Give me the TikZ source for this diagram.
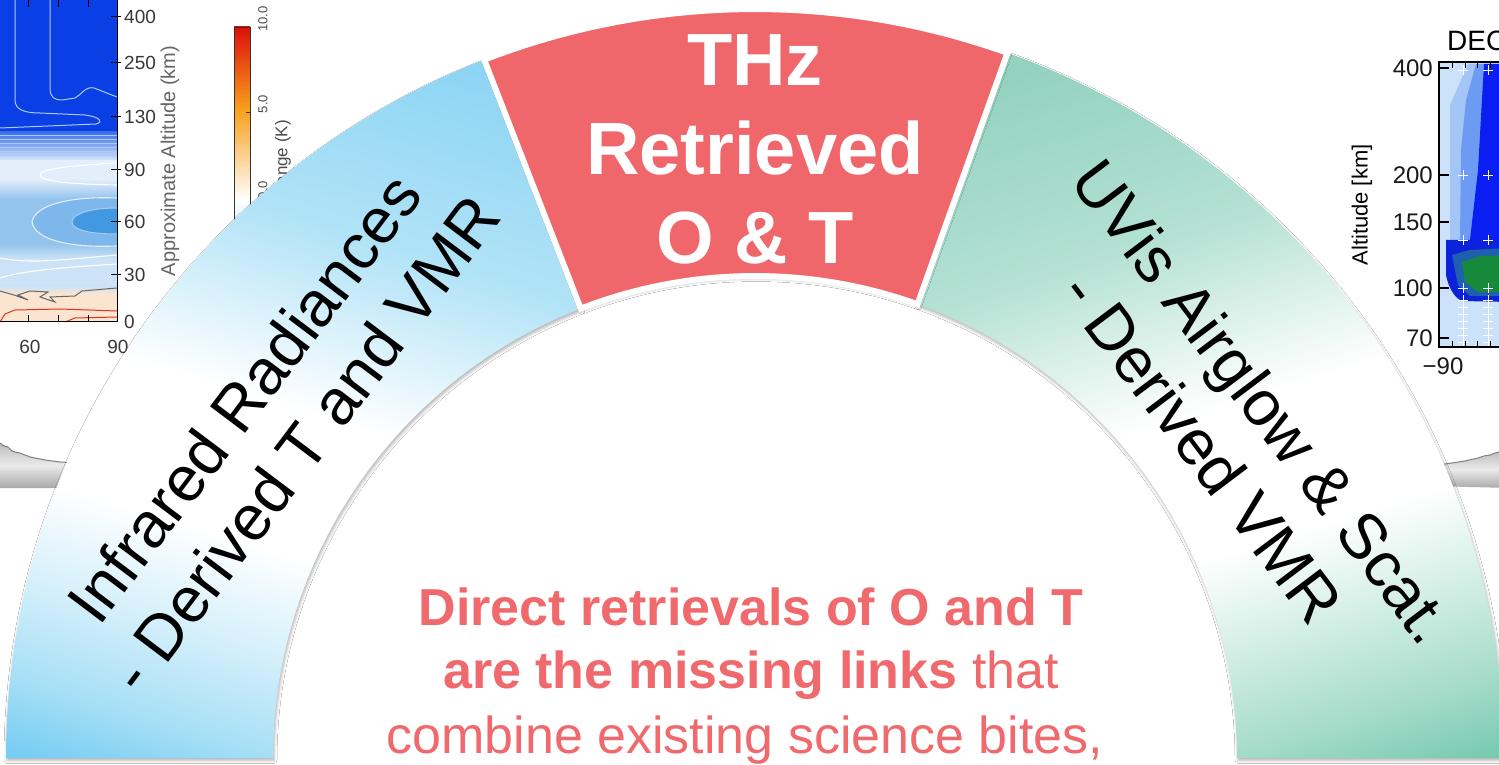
\documentclass[tikz,border=0pt]{standalone}
\usepackage{fontspec}
\setmainfont{Liberation Sans}
\usetikzlibrary{shadows.blur}

% arch palette
\definecolor{irA}{HTML}{72CBF2}
\definecolor{irB}{HTML}{A6DFF6}
\definecolor{irC}{HTML}{D6F0FB}
\definecolor{irD}{HTML}{B2E3F7}
\definecolor{irE}{HTML}{8DD5F4}
\definecolor{uvA}{HTML}{74C8AE}
\definecolor{uvB}{HTML}{A4DBC9}
\definecolor{uvC}{HTML}{D2EEE5}
\definecolor{uvD}{HTML}{B4E1D3}
\definecolor{uvE}{HTML}{94D2BF}
\definecolor{thzred}{HTML}{F0676B}
\definecolor{msgred}{HTML}{F0696D}
% contour plot palette (left)
\definecolor{lpDeep}{HTML}{0B3FE6}
\definecolor{lpTrans}{HTML}{3A70EB}
\definecolor{lpPale}{HTML}{E3EEFA}
\definecolor{lpMid}{HTML}{93C4EE}
\definecolor{lpTongue}{HTML}{7DB7EC}
\definecolor{lpCore}{HTML}{4398E2}
\definecolor{lpLight}{HTML}{CCE2F6}
\definecolor{lpPeach}{HTML}{FBE4D0}
\definecolor{lpLine}{HTML}{A9CBF4}
\definecolor{cbRed}{HTML}{DD0F0C}
\definecolor{cbOrange}{HTML}{F8A11C}
% contour plot palette (right)
\definecolor{rpLight}{HTML}{CCE2FB}
\definecolor{rpMedA}{HTML}{A4C6F7}
\definecolor{rpMedB}{HTML}{6D9BF3}
\definecolor{rpDeep}{HTML}{0A1EF2}
\definecolor{rpDark}{HTML}{0B22D8}
\definecolor{rpTeal}{HTML}{1F5FB0}
\definecolor{rpGreen}{HTML}{168A3A}
% boom greys
\definecolor{boomTop}{HTML}{BDBDBD}
\definecolor{boomMid}{HTML}{EAEAEA}
\definecolor{boomLow}{HTML}{A9A9A9}

\pgfdeclareverticalshading{irband}{100bp}{color(0bp)=(irA); color(32bp)=(irA); color(36bp)=(irB); color(41bp)=(irC); color(46bp)=(white); color(53bp)=(white); color(62bp)=(irD); color(72bp)=(irE); color(100bp)=(irE)}
\pgfdeclareverticalshading{uvband}{100bp}{color(0bp)=(uvA); color(32bp)=(uvA); color(36bp)=(uvB); color(41bp)=(uvC); color(46bp)=(white); color(53bp)=(white); color(62bp)=(uvD); color(72bp)=(uvE); color(100bp)=(uvE)}

% the three pieces of the arch, centre (755,6)
\newcommand\irSegmentPath{([shift={(755,6)}]180:749) arc[start angle=180,end angle=111.2,radius=749] -- ([shift={(755,6)}]111.2:482) arc[start angle=111.2,end angle=180,radius=482] -- cycle}
\newcommand\uvSegmentPath{([shift={(755,6)}]0:749) arc[start angle=0,end angle=70.3,radius=749] -- ([shift={(755,6)}]70.3:482) arc[start angle=70.3,end angle=0,radius=482] -- cycle}
\newcommand\thzSegmentPath{([shift={(755,6)}]70.3:749) arc[start angle=70.3,end angle=111.2,radius=749] -- ([shift={(755,6)}]111.2:482) arc[start angle=111.2,end angle=70.3,radius=482] -- cycle}

\begin{document}
\begin{tikzpicture}[x=1pt,y=1pt,
  segtext/.style={font=\fontsize{64}{76}\selectfont, align=center, inner sep=0pt, text=black},
  thzlbl/.style={font=\bfseries\fontsize{74}{89}\selectfont, align=center, inner sep=0pt, text=white},
  msgline/.style={font=\fontsize{52}{62}\selectfont, text=msgred, inner sep=0pt, anchor=base},
  lpnum/.style={font=\fontsize{19}{19}\selectfont, text=black!78, inner sep=0pt},
  lpsmall/.style={font=\fontsize{13}{13}\selectfont, text=black!70, inner sep=0pt, rotate=90},
  rpnum/.style={font=\fontsize{24}{24}\selectfont, text=black!90, inner sep=0pt},
  segshadow/.style={blur shadow={shadow xshift=1pt, shadow yshift=-2.5pt, shadow blur radius=3pt, shadow opacity=30}},
  boom/.style={top color=boomTop, bottom color=boomLow, middle color=boomMid},
  boomedge/.style={black!50, line width=1pt},
  wline/.style={white, line width=1.1pt},
  wcross/.style={white, line width=0.9pt}
]
\useasboundingbox (0,0) rectangle (1499,764);
\fill[white] (0,0) rectangle (1499,764);

%% ---------- left contour plot ----------
\fill[lpDeep] (0,764) rectangle (117,632);
\shade[top color=lpTrans, bottom color=lpPale!80!lpMid] (0,632) rectangle (117,604);
\foreach \ly in {629,625,621,617,613,609}
  \draw[lpLine, line width=0.7pt] (0,\ly) -- (117,\ly);
\fill[lpPale] (0,604) rectangle (117,585);
\shade[top color=lpPale, bottom color=lpMid] (0,585) rectangle (117,565);
\fill[lpMid] (0,565) rectangle (117,520);
\shade[top color=lpMid, bottom color=lpLight] (0,520) rectangle (117,505);
\fill[lpLight] (0,505) rectangle (117,478);
\shade[top color=lpLight, bottom color=lpPeach] (0,478) rectangle (117,470);
\fill[lpPeach] (0,470) rectangle (117,442);
% contours in the upper region
\draw[lpLine, line width=1pt] (50,764) -- (50,676) .. controls (50,666) and (55,664) .. (62,664)
  -- (75,666) .. controls (82,670) and (86,678) .. (94,676) -- (117,667);
\draw[lpLine, line width=1pt] (15,764) -- (15,664) .. controls (15,654) and (25,651) .. (40,651)
  -- (85,649) .. controls (100,647) and (104,642) .. (96,640) -- (0,636);
% contours in the lower region
\draw[wline] (117,601) .. controls (60,598) and (40,594) .. (40,589) .. controls (40,584) and (60,580) .. (117,579);
\fill[lpTongue] (117,566) .. controls (70,568) and (35,559) .. (32,542) .. controls (35,524) and (70,516) .. (117,518) -- cycle;
\draw[lpPale, line width=1.1pt] (117,566) .. controls (70,568) and (35,559) .. (32,542) .. controls (35,524) and (70,516) .. (117,518);
\fill[lpCore] (117,556) .. controls (90,556) and (72,550) .. (72,542) .. controls (72,534) and (90,530) .. (117,530) -- cycle;
\draw[lpLine, line width=1pt] (117,556) .. controls (90,556) and (72,550) .. (72,542) .. controls (72,534) and (90,530) .. (117,530);
\draw[wline] (0,506) .. controls (30,500) and (60,504) .. (117,509);
\draw[wline] (0,486) .. controls (25,494) and (70,497) .. (117,500);
\draw[black!60, line width=1pt] (0,473) -- (14,469) -- (28,464) -- (18,469) -- (30,473) -- (48,472)
  -- (40,467) -- (55,462) -- (50,467) -- (75,468) -- (82,473) -- (117,476);
\draw[red!60!brown, line width=1pt] (0,442) -- (5,450) -- (15,454) -- (60,455) -- (117,453);
\draw[red!60!brown, line width=1pt] (65,442) -- (75,446) -- (117,447);
% axes and ticks
\draw[black, line width=1pt] (117,764) -- (117,442) -- (0,442);
\foreach \ty in {747,701,647,594,542,489}
  \draw[black, line width=1pt] (111,\ty) -- (121,\ty);
\foreach \tx in {28,58,88} {
  \draw[black, line width=1pt] (\tx,442) -- (\tx,449);
  \draw[black, line width=1pt] (\tx,764) -- (\tx,757);
}
\node[lpnum, anchor=west] (la400) at (124,747) {400};
\node[lpnum, anchor=west] (la250) at (124,701) {250};
\node[lpnum, anchor=west] (la130) at (124,647) {130};
\node[lpnum, anchor=west] (la90)  at (124,594) {90};
\node[lpnum, anchor=west] (la60)  at (124,542) {60};
\node[lpnum, anchor=west] (la30)  at (124,489) {30};
\node[lpnum, anchor=west] (la0)   at (124,442) {0};
\node[lpnum] (lb60) at (30,417) {60};
\node[lpnum] (lb90) at (118,417) {90};
\node[font=\fontsize{20}{20}\selectfont, text=black!60, inner sep=0pt, rotate=90] (laxis) at (170,603) {Approximate Altitude (km)};
% colour bar
\shade[top color=cbRed, bottom color=cbOrange] (234,737) rectangle (250,654);
\shade[top color=cbOrange, bottom color=white] (234,654) rectangle (250,564);
\shade[top color=white, bottom color=lpLight] (234,564) rectangle (250,524);
\draw[black!80, line width=0.8pt] (234,737) rectangle (250,524);
\draw[black!80, line width=0.8pt] (246,652) -- (250,652);
\node[lpsmall] (cb10) at (263,745) {10.0};
\node[lpsmall] (cb5)  at (263,660) {5.0};
\node[lpsmall] (cb0)  at (263,574) {0.0};
\node[font=\fontsize{17}{17}\selectfont, text=black!70, inner sep=0pt, rotate=90, anchor=east] (cbname) at (283,644) {ange (K)};

%% ---------- right contour plot ----------
\fill[rpLight] (1440,418) rectangle (1510,701);
\fill[rpMedA] (1450,659) -- (1468,700) -- (1510,700) -- (1510,524) -- (1450,524) -- cycle;
\fill[rpMedB] (1461,614) -- (1466,664) -- (1476,700) -- (1510,700) -- (1510,524) -- (1460,524) -- cycle;
\fill[rpDeep] (1484,700) -- (1478,594) -- (1470,524) -- (1510,524) -- (1510,700) -- cycle;
\fill[rpDark] (1446,524) -- (1446,489) .. controls (1448,478) and (1454,466) .. (1462,463) -- (1510,462) -- (1510,524) -- cycle;
\fill[rpTeal] (1452,509) -- (1458,479) -- (1470,468) -- (1510,468) -- (1510,516) -- (1470,514) -- cycle;
\fill[rpGreen] (1462,502) -- (1465,482) -- (1478,472) -- (1510,472) -- (1510,509) -- (1480,508) -- cycle;
\foreach \cx in {1463,1488}
  \foreach \cy in {694,589,524,476,464,457,450,443,436,429,422}
    \draw[wcross] (\cx-5,\cy) -- (\cx+5,\cy) (\cx,\cy-5) -- (\cx,\cy+5);
\draw[black, line width=1.3pt] (1510,702) -- (1439,702) -- (1439,417) -- (1510,417);
\foreach \ty in {696,589,542,476,426}
  \draw[black, line width=1.2pt] (1439,\ty) -- (1449,\ty);
\foreach \tx in {1452,1465,1477,1490} {
  \draw[black, line width=1pt] (\tx,702) -- (\tx,696);
  \draw[black, line width=1pt] (\tx,417) -- (\tx,423);
}
\node[rpnum, anchor=east] (ra400) at (1433,696) {400};
\node[rpnum, anchor=east] (ra200) at (1433,589) {200};
\node[rpnum, anchor=east] (ra150) at (1433,542) {150};
\node[rpnum, anchor=east] (ra100) at (1433,476) {100};
\node[rpnum, anchor=east] (ra70)  at (1433,426) {70};
\node[rpnum] (rb90) at (1443,398) {−90};
\node[font=\fontsize{22}{22}\selectfont, inner sep=0pt, rotate=90] (raxis) at (1362,559) {Altitude [km]};
\node[font=\fontsize{28}{28}\selectfont, inner sep=0pt, anchor=base west] (rtitle) at (1447,713) {DEC};

%% ---------- spacecraft booms behind the arch ----------
\shade[boom]
  (0,321) -- (8,317) -- (15,312) -- (25,309) -- (35,306) -- (45,304) -- (60,302) -- (80,301)
  -- (80,276) -- (0,276) -- cycle;
\draw[boomedge] (0,321) -- (4,318) -- (8,317) -- (12,313) -- (15,312) -- (20,311)
  -- (25,309) -- (30,307) -- (35,306) -- (45,304) -- (60,302) -- (80,301);
\shade[boom]
  (1430,298) -- (1452,301) -- (1465,303) -- (1478,306) -- (1490,309) -- (1499,312) -- (1510,313)
  -- (1510,276) -- (1430,278) -- cycle;
\draw[boomedge] (1430,298) -- (1452,301) -- (1465,303) -- (1478,306) -- (1484,308)
  -- (1490,309) -- (1495,311) -- (1499,312) -- (1510,313);

%% ---------- arch ----------
\path[segshadow] \irSegmentPath;
\begin{scope}
  \clip \irSegmentPath;
  \shade[shading=irband, shading angle=-17] (-200,-210) rectangle (800,790);
\end{scope}
\path[segshadow] \uvSegmentPath;
\begin{scope}
  \clip \uvSegmentPath;
  \shade[shading=uvband, shading angle=17] (710,-210) rectangle (1710,790);
\end{scope}
\path[fill=thzred, draw=white, line width=6pt, segshadow] \thzSegmentPath;

%% ---------- labels ----------
\node[segtext, rotate=53] (irtext) at (274,343) {Infrared Radiances\\- Derived T and VMR};
\node[segtext, rotate=-53] (uvtext) at (1233,340) {UVis Airglow \& Scat.\\- Derived VMR};
\node[thzlbl] (thztext) at (755,615) {THz\\Retrieved\\O \& T};

\node[msgline] (msg1) at (751,139) {\bfseries Direct retrievals of O and T};
\node[msgline] (msg2) at (751,76) {{\bfseries are the missing links} that};
\node[msgline] (msg3) at (745,11) {combine existing science bites,};
\end{tikzpicture}
\end{document}
